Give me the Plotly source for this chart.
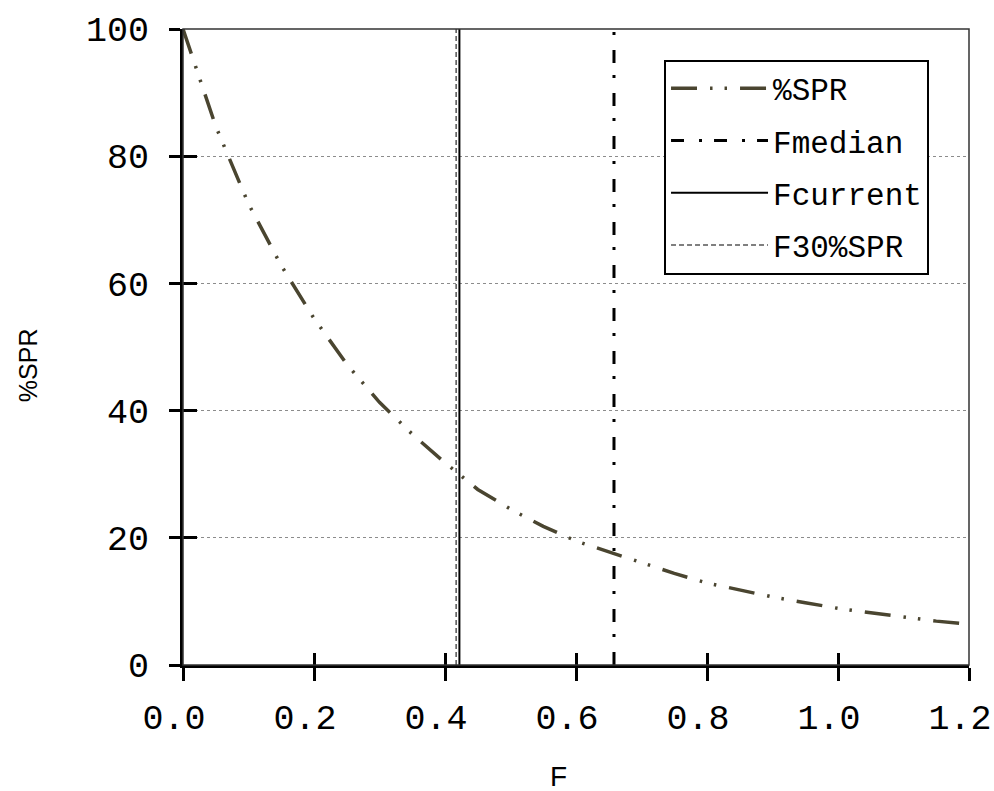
import plotly.graph_objects as go

# Fishing mortality grid and spawner-per-recruit (% of unfished)
F_vals = [0.00, 0.05, 0.10, 0.15, 0.20, 0.25, 0.30, 0.35, 0.40, 0.45, 0.50,
          0.55, 0.60, 0.65, 0.70, 0.75, 0.80, 0.85, 0.90, 0.95, 1.00, 1.05,
          1.10, 1.15, 1.20]
spr_vals = [100.0, 84.7, 72.5, 62.8, 54.5, 47.3, 41.3, 36.3, 31.8, 27.6, 24.5,
            21.8, 19.5, 17.8, 16.0, 14.4, 12.9, 11.8, 10.7, 9.8, 8.9, 8.2,
            7.5, 6.9, 6.4]

# Reference points
F_median = 0.658
F_current = 0.422
F_30spr = 0.417

x_ticks = [0.0, 0.2, 0.4, 0.6, 0.8, 1.0, 1.2]
x_ticktext = ["0.0", "0.2", "0.4", "0.6", "0.8", "1.0", "1.2"]
y_ticks = [0, 20, 40, 60, 80, 100]

TICK_FONT = dict(family="Liberation Mono", size=35, color="black")

fig = go.Figure()

fig.add_trace(go.Scatter(
    x=F_vals, y=spr_vals, mode="lines", name="%SPR", legendgroup="a",
    line=dict(color="#4a4530", width=3.5, dash="26px,13px,2.5px,12px,2.5px,13px"),
))
fig.add_trace(go.Scatter(
    x=[F_median, F_median], y=[0, 100], mode="lines", name="Fmedian", legendgroup="b",
    line=dict(color="black", width=3, dash="13px,15px,3px,12px"),
))
fig.add_trace(go.Scatter(
    x=[F_current, F_current], y=[0, 100], mode="lines", name="Fcurrent", legendgroup="c",
    line=dict(color="black", width=2),
))
fig.add_trace(go.Scatter(
    x=[F_30spr, F_30spr], y=[0, 100], mode="lines", name="F30%SPR", legendgroup="d",
    line=dict(color="#555555", width=1.5, dash="5px,3px"),
))
# empty trace that anchors the inner-tick overlay axes
fig.add_trace(go.Scatter(x=[], y=[], xaxis="x2", yaxis="y2", showlegend=False,
                         hoverinfo="skip"))

fig.update_layout(
    width=994, height=791,
    margin=dict(l=183, r=25, t=29, b=126, autoexpand=False),
    paper_bgcolor="white", plot_bgcolor="white",
    showlegend=True,
    legend=dict(
        x=0.612, y=0.952, xanchor="left", yanchor="top",
        bordercolor="black", borderwidth=2, bgcolor="white",
        font=dict(family="Liberation Mono", size=31, color="black"),
        itemwidth=97, tracegroupgap=9, traceorder="grouped",
    ),
    xaxis=dict(
        range=[0, 1.2], tickvals=x_ticks, ticktext=x_ticktext,
        ticks="outside", ticklen=13, tickwidth=2.5, tickcolor="black",
        showline=True, linecolor="black", linewidth=3,
        showgrid=False, zeroline=False, tickfont=TICK_FONT, automargin=False,
        ticklabelstandoff=6, ticklabelshift=-9, ticklabeloverflow="allow",
    ),
    yaxis=dict(
        range=[0, 100], tickvals=y_ticks, automargin=False,
        ticks="outside", ticklen=11, tickwidth=2.5, tickcolor="black",
        showline=True, linecolor="black", linewidth=3,
        showgrid=True, gridcolor="#8c8c8c", gridwidth=1, griddash="dot",
        zeroline=False, tickfont=TICK_FONT, ticklabelstandoff=13,
    ),
    xaxis2=dict(
        range=[0, 1.2], tickvals=x_ticks, overlaying="x", side="bottom",
        anchor="y2", ticks="inside", ticklen=12, tickwidth=2.5, automargin=False,
        tickcolor="black", showticklabels=False, showgrid=False,
        zeroline=False, showline=False,
    ),
    yaxis2=dict(
        range=[0, 100], tickvals=y_ticks, overlaying="y", side="left",
        anchor="x2", ticks="inside", ticklen=14, tickwidth=2.5, automargin=False,
        tickcolor="black", showticklabels=False, showgrid=False,
        zeroline=False, showline=False,
    ),
    shapes=[dict(type="rect", xref="paper", yref="paper", x0=0, x1=1, y0=0, y1=1,
                 line=dict(color="#333333", width=1.5), layer="above")],
    annotations=[
        dict(text="%SPR", xref="paper", yref="paper", x=-0.198, y=0.472,
             xanchor="center", yanchor="middle", showarrow=False, textangle=-90,
             font=dict(family="Liberation Sans", size=25, color="black")),
        dict(text="F", xref="paper", yref="paper", x=0.478, y=-0.176,
             xanchor="center", yanchor="middle", showarrow=False,
             font=dict(family="Liberation Sans", size=28, color="black")),
    ],
)

fig.write_html("out.html")
